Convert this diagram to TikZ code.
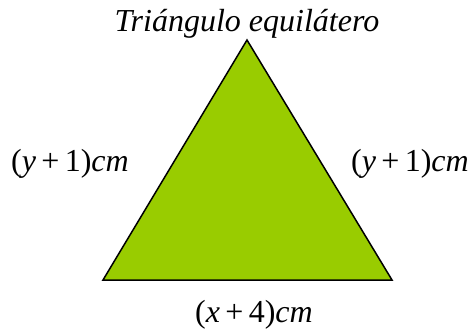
\documentclass[tikz,border=0pt]{standalone}
\usepackage{fontspec}
\setmainfont{Liberation Serif}
\usepackage{xcolor}
\usepackage{tikz}
\definecolor{trigreen}{HTML}{99CC00}

\begin{document}
\begin{tikzpicture}[x=1pt,y=-1pt,lbl/.style={anchor=base,inner sep=0pt,font=\rmfamily\fontsize{32}{36}\selectfont}]
  \useasboundingbox (0,0) rectangle (474,331);
  \coordinate (top) at (247,40);
  \coordinate (bl) at (103,280);
  \coordinate (br) at (392,280);
  \draw[fill=trigreen, line width=1.5pt] (top) -- (bl) -- (br) -- cycle;
  \node[lbl] (title) at (247,32) {\textit{Triángulo equilátero}};
  \node[lbl] (left) at (70,172) {(\textit{y}\,+\,1)\textit{cm}};
  \node[lbl] (right) at (410,172) {(\textit{y}\,+\,1)\textit{cm}};
  \node[lbl] (base) at (254,322) {(\textit{x}\,+\,4)\textit{cm}};
\end{tikzpicture}
\end{document}
